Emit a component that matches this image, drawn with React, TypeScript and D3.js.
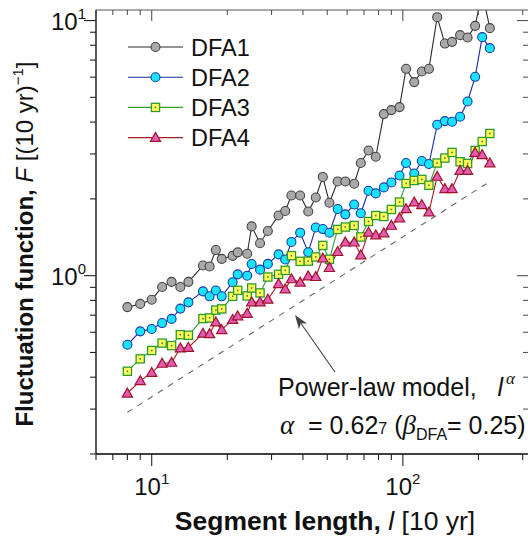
import React from 'react';
import * as d3 from 'd3';

// ---------- data ----------
const segLen = [8, 9, 10, 11, 12, 13, 14, 16, 17, 18, 19, 21, 22, 24, 25, 27, 29, 32, 34, 36, 39, 42, 45, 48, 51, 55, 59, 64, 68, 73, 78, 84, 90, 97, 103, 111, 119, 127, 137, 147, 157, 169, 181, 194, 207, 222];
const dfa1 = [0.753, 0.775, 0.805, 0.903, 0.946, 0.903, 0.946, 1.096, 1.087, 1.26, 1.164, 1.196, 1.234, 1.219, 1.56, 1.34, 1.497, 1.722, 1.792, 2.062, 2.062, 1.784, 2.026, 2.438, 1.932, 2.341, 2.341, 2.293, 2.766, 3.096, 2.925, 4.299, 4.457, 4.58, 6.469, 5.738, 6.313, 6.469, 10.31, 8.125, 8.252, 8.767, 8.58, 9.532, 12.9, 9.337];
const dfa2 = [0.536, 0.605, 0.618, 0.652, 0.677, 0.743, 0.786, 0.868, 0.83, 0.875, 0.83, 0.943, 1.012, 1.0, 1.111, 1.056, 1.112, 1.212, 1.158, 1.356, 1.474, 1.236, 1.544, 1.523, 1.474, 1.825, 1.739, 1.902, 1.757, 2.152, 2.101, 2.218, 2.32, 2.471, 2.764, 2.515, 2.814, 2.739, 3.904, 4.036, 4.011, 4.196, 4.817, 6.019, 8.61, 7.796];
const dfa3 = [0.422, 0.472, 0.509, 0.544, 0.532, 0.587, 0.584, 0.679, 0.683, 0.733, 0.741, 0.83, 0.876, 0.833, 0.895, 0.856, 0.988, 1.012, 1.049, 1.198, 1.138, 1.14, 1.184, 1.314, 1.16, 1.518, 1.551, 1.574, 1.418, 1.631, 1.721, 1.706, 1.818, 1.944, 2.299, 2.362, 2.384, 2.262, 2.764, 2.891, 3.041, 2.796, 2.754, 3.096, 3.357, 3.609];
const dfa4 = [0.346, 0.387, 0.417, 0.453, 0.457, 0.52, 0.523, 0.594, 0.592, 0.658, 0.614, 0.673, 0.695, 0.711, 0.788, 0.788, 0.808, 0.93, 0.887, 0.971, 0.942, 0.997, 0.991, 1.171, 1.075, 1.242, 1.353, 1.353, 1.205, 1.478, 1.443, 1.47, 1.574, 1.683, 1.83, 1.944, 1.897, 1.776, 2.449, 2.192, 2.192, 2.585, 2.585, 3.041, 2.979, 2.764];
const seriesNames = ['DFA1', 'DFA2', 'DFA3', 'DFA4'];
const powerLawRange = [8, 215];
const powerLawAlpha = 0.627;
const powerLawPrefactor = 0.0791;
const xDomain = [6, 315];
const yDomain = [0.2, 11];

// ---------- layout / style ----------
const W = 528, H = 536;
const L = 96, R = 528, T = 10, B = 454;
const SANS = '"Liberation Sans", Arial, sans-serif';
const SERIF = '"Liberation Serif", "Times New Roman", serif';

const styles = [
  { line: '#2a2a2a', fill: '#a9a9a9', stroke: '#444444', shape: 'circle' },
  { line: '#1c2a9c', fill: '#19e3ff', stroke: '#1a3aa8', shape: 'circle' },
  { line: '#2f9f2f', fill: '#ffff5a', stroke: '#2e9a2e', shape: 'square' },
  { line: '#a81c24', fill: '#e25cb4', stroke: '#a0142a', shape: 'triangle' },
];

function Marker({ cx, cy, st }: { cx: number; cy: number; st: any }) {
  if (st.shape === 'circle') {
    return <circle cx={cx} cy={cy} r={4.5} fill={st.fill} stroke={st.stroke} strokeWidth={1.1} />;
  }
  if (st.shape === 'square') {
    return (
      <g>
        <rect x={cx - 4.1} y={cy - 4.1} width={8.2} height={8.2} fill={st.fill} stroke={st.stroke} strokeWidth={1.3} />
        <rect x={cx - 0.8} y={cy - 0.8} width={1.6} height={1.6} fill="#6b6b3a" />
      </g>
    );
  }
  const s = 5.1;
  const pts = `${cx},${cy - s} ${cx - s},${cy + s * 0.75} ${cx + s},${cy + s * 0.75}`;
  return <polygon points={pts} fill={st.fill} stroke={st.stroke} strokeWidth={1.2} strokeLinejoin="miter" />;
}

export default function App() {
  const x = d3.scaleLog().domain(xDomain).range([L, R]);
  const y = d3.scaleLog().domain(yDomain).range([B, T]);
  const all = [dfa1, dfa2, dfa3, dfa4];

  const line = d3
    .line<[number, number]>()
    .x((d) => x(d[0]))
    .y((d) => y(d[1]));

  const xTicks = x.ticks();
  const yTicks = y.ticks();
  const isMajor = (v: number) => Math.abs(Math.log10(v) - Math.round(Math.log10(v))) < 1e-9;

  const plLen = d3.range(0, 41).map((i) => powerLawRange[0] * Math.pow(powerLawRange[1] / powerLawRange[0], i / 40));
  const plData: [number, number][] = plLen.map((l) => [l, powerLawPrefactor * Math.pow(l, powerLawAlpha)]);

  // arrow
  const tail = [335, 372];
  const tip = [295, 315];
  const dx = tip[0] - tail[0], dy = tip[1] - tail[1];
  const len = Math.hypot(dx, dy);
  const ux = dx / len, uy = dy / len;
  const nx = -uy, ny = ux;
  const bx = tip[0] - ux * 14, by = tip[1] - uy * 14;
  const arrowHead = [
    [tip[0], tip[1]],
    [bx + nx * 5, by + ny * 5],
    [tip[0] - ux * 10, tip[1] - uy * 10],
    [bx - nx * 5, by - ny * 5],
  ]
    .map((p) => p.join(','))
    .join(' ');

  const legendY0 = 47, legendDy = 30.2;

  return (
    <svg width={W} height={H} style={{ position: 'absolute', left: 0, top: 0, background: '#fff' }} fontFamily={SANS}>
      <rect x={0} y={0} width={W} height={H} fill="#fff" />
      <defs>
        <clipPath id="plotClip">
          <rect x={L} y={T} width={R - L} height={B - T} />
        </clipPath>
      </defs>

      {/* power-law model */}
      <path d={line(plData) || ''} fill="none" stroke="#666" strokeWidth={1.1} strokeDasharray="6,6" />

      {/* series */}
      <g clipPath="url(#plotClip)">
        {all.map((vals, si) => {
          const pts: [number, number][] = segLen.map((l, i) => [l, vals[i]]);
          return (
            <g key={si}>
              <path d={line(pts) || ''} fill="none" stroke={styles[si].line} strokeWidth={1.1} />
            </g>
          );
        })}
        {all.map((vals, si) => (
          <g key={'m' + si}>
            {segLen.map((l, i) => (
              <Marker key={i} cx={x(l)} cy={y(vals[i])} st={styles[si]} />
            ))}
          </g>
        ))}
      </g>

      {/* frame */}
      <line x1={L} y1={T} x2={R} y2={T} stroke="#555" strokeWidth={1.2} />
      <line x1={L} y1={T} x2={L} y2={B} stroke="#000" strokeWidth={1.3} />
      <line x1={L} y1={B} x2={R} y2={B} stroke="#000" strokeWidth={1.3} />

      {/* bottom & top ticks */}
      {xTicks.map((v, i) => {
        const px = x(v);
        const maj = isMajor(v);
        return (
          <g key={'xt' + i}>
            <line x1={px} y1={B} x2={px} y2={B + (maj ? 12 : 6)} stroke="#222" strokeWidth={1.1} />
            <line x1={px} y1={T} x2={px} y2={T + (maj ? 11 : 5)} stroke="#555" strokeWidth={1.1} />
          </g>
        );
      })}
      {/* left & right ticks */}
      {yTicks.map((v, i) => {
        const py = y(v);
        const maj = isMajor(v);
        return (
          <g key={'yt' + i}>
            <line x1={L - (maj ? 12 : 6)} y1={py} x2={L} y2={py} stroke="#222" strokeWidth={1.1} />
            <line x1={R - (maj ? 11 : 5)} y1={py} x2={R} y2={py} stroke="#555" strokeWidth={1.1} />
          </g>
        );
      })}

      {/* tick labels */}
      {xTicks.filter(isMajor).map((v, i) => (
        <text key={'xl' + i} x={x(v)} y={495} textAnchor="middle" fontSize={24} fill="#111">
          10<tspan dy={-11} fontSize={15}>{Math.round(Math.log10(v))}</tspan>
        </text>
      ))}
      {yTicks.filter(isMajor).map((v, i) => (
        <text key={'yl' + i} x={86} y={y(v) + 9} textAnchor="end" fontSize={24} fill="#111">
          10<tspan dy={-11} fontSize={15}>{Math.round(Math.log10(v))}</tspan>
        </text>
      ))}

      {/* axis titles */}
      <text x={325} y={530} textAnchor="middle" fontSize={26.5} fill="#111" style={{ whiteSpace: 'pre' }}>
        <tspan fontWeight="bold">Segment length, </tspan>
        <tspan fontStyle="italic">l</tspan>
        <tspan> [10 yr]</tspan>
      </text>
      <text transform="translate(33,244) rotate(-90)" textAnchor="middle" fontSize={24} fill="#111" style={{ whiteSpace: 'pre' }}>
        <tspan fontWeight="bold">Fluctuation function, </tspan>
        <tspan fontStyle="italic">F</tspan>
        <tspan> [(10 yr)</tspan>
        <tspan dy={-10} fontSize={15}>−1</tspan>
        <tspan dy={10}>]</tspan>
      </text>

      {/* legend */}
      {seriesNames.map((name, i) => {
        const ly = legendY0 + i * legendDy;
        return (
          <g key={'lg' + i}>
            <line x1={128} y1={ly} x2={183} y2={ly} stroke={styles[i].line} strokeWidth={1.1} />
            <Marker cx={155.5} cy={ly} st={styles[i]} />
            <text x={191} y={ly + 8.5} fontSize={23.5} fill="#111">
              {name}
            </text>
          </g>
        );
      })}

      {/* annotation */}
      <line x1={tail[0]} y1={tail[1]} x2={tip[0] - ux * 8} y2={tip[1] - uy * 8} stroke="#444" strokeWidth={1.1} />
      <polygon points={arrowHead} fill="#444" />
      <text x={278} y={396} fontSize={25} fill="#111" style={{ whiteSpace: 'pre' }}>
        <tspan>Power-law model,   </tspan>
        <tspan fontStyle="italic">l</tspan>
        <tspan dx={3} dy={-12} fontSize={17} fontFamily={SERIF} fontStyle="italic">α</tspan>
      </text>
      <text x={280} y={434} fontSize={25} fill="#111" style={{ whiteSpace: 'pre' }}>
        <tspan fontFamily={SERIF} fontStyle="italic" fontSize={27}>α</tspan>
        <tspan>  = 0.62</tspan>
        <tspan fontSize={16}>7</tspan>
        <tspan> (</tspan>
        <tspan fontFamily={SERIF} fontStyle="italic" fontSize={27}>β</tspan>
        <tspan dy={6} fontSize={16}>DFA</tspan>
        <tspan dy={-6}>= 0.25)</tspan>
      </text>
    </svg>
  );
}
